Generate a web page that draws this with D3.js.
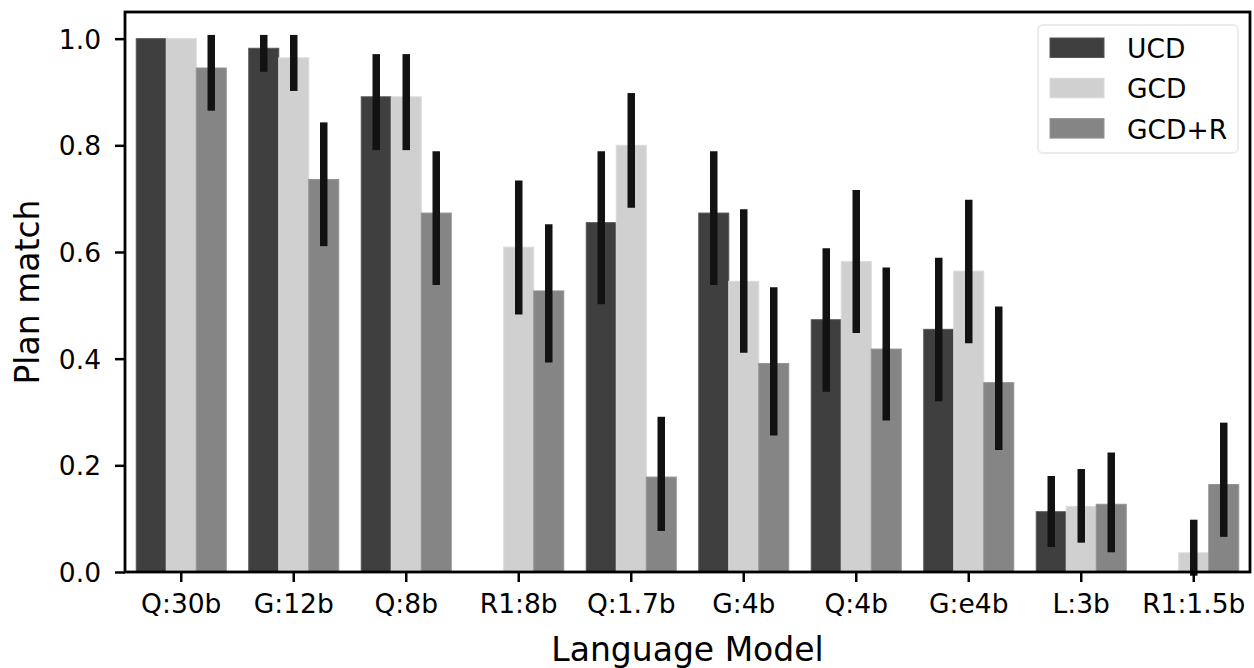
<!DOCTYPE html>
<html lang="en">
<head>
  <meta charset="utf-8">
  <title>Plan match by language model</title>
  <script src="https://cdn.jsdelivr.net/npm/d3@7"></script>
  <style>
    body { margin: 0; background: #fff; }
    svg { display: block; font-family: "DejaVu Sans", sans-serif; }
  </style>
</head>
<body>

<div id="screen">
  <svg width="1254" height="668"></svg>
</div>

<script type="text/javascript">

// categories along the x axis
const models = ["Q:30b", "G:12b", "Q:8b", "R1:8b", "Q:1.7b", "G:4b", "Q:4b", "G:e4b", "L:3b", "R1:1.5b"];
const methods = ["UCD", "GCD", "GCD+R"];

// mean plan match per model (null = no bar)
const ucd    = [1.0,   0.982, 0.891, null,  0.655, 0.673, 0.473, 0.455, 0.113, null];
const gcd    = [1.0,   0.964, 0.891, 0.609, 0.800, 0.545, 0.582, 0.564, 0.123, 0.036];
const gcdR   = [0.945, 0.736, 0.673, 0.527, 0.178, 0.391, 0.418, 0.355, 0.127, 0.164];

// confidence intervals, low and high
const ucdLo  = [1.0,   0.945, 0.798, null,  0.509, 0.545, 0.345, 0.327, 0.054, null];
const ucdHi  = [1.0,   1.0,   0.964, null,  0.782, 0.782, 0.600, 0.582, 0.173, null];
const gcdLo  = [1.0,   0.909, 0.798, 0.490, 0.690, 0.418, 0.455, 0.436, 0.062, 0.0];
const gcdHi  = [1.0,   1.0,   0.964, 0.727, 0.891, 0.673, 0.709, 0.691, 0.186, 0.091];
const gcdRLo = [0.872, 0.618, 0.545, 0.400, 0.084, 0.263, 0.291, 0.236, 0.044, 0.073];
const gcdRHi = [1.0,   0.836, 0.782, 0.645, 0.284, 0.527, 0.564, 0.491, 0.217, 0.273];

const yTicks = [0.0, 0.2, 0.4, 0.6, 0.8, 1.0];

const colours = {"UCD": "#3f3f3f", "GCD": "#d0d0d0", "GCD+R": "#858585"};
const edges   = {"UCD": "#555555", "GCD": "#dadada", "GCD+R": "#939393"};

const plot = { left: 125, right: 1250, top: 12, bottom: 572 };
const tickFont = 26.5;

var svg = d3.select('svg');

var x = d3.scaleBand().domain(models).range([plot.left, plot.right]).padding(0);
var xInner = d3.scaleBand().domain(methods)
  .range([x.bandwidth() * 0.1, x.bandwidth() * 0.9]).padding(0);
var y = d3.scaleLinear().domain([0, 1.05]).range([plot.bottom, plot.top]);

// one row per bar
var rows = [];
var seriesVals = {"UCD": [ucd, ucdLo, ucdHi], "GCD": [gcd, gcdLo, gcdHi], "GCD+R": [gcdR, gcdRLo, gcdRHi]};
models.forEach(function(m, i) {
  methods.forEach(function(s) {
    var v = seriesVals[s];
    if (v[0][i] !== null) {
      rows.push({model: m, method: s, value: v[0][i], lo: v[1][i], hi: v[2][i]});
    }
  });
});

// bars
svg.append('g').selectAll('rect')
  .data(rows)
  .enter().append('rect')
  .attr("x", function(d) { return x(d.model) + xInner(d.method); })
  .attr("width", xInner.bandwidth())
  .attr("y", function(d) { return y(d.value); })
  .attr("height", function(d) { return y(0) - y(d.value); })
  .attr("fill", function(d) { return colours[d.method]; })
  .attr("stroke", function(d) { return edges[d.method]; })
  .attr("stroke-width", 1);

// error bars
svg.append('g').selectAll('line')
  .data(rows.filter(function(d) { return d.hi > d.lo; }))
  .enter().append('line')
  .attr("x1", function(d) { return x(d.model) + xInner(d.method) + xInner.bandwidth() / 2; })
  .attr("x2", function(d) { return x(d.model) + xInner(d.method) + xInner.bandwidth() / 2; })
  .attr("y1", function(d) { return y(d.lo); })
  .attr("y2", function(d) { return y(d.hi); })
  .attr("stroke", "#121212")
  .attr("stroke-width", 7.5)
  .attr("stroke-linecap", "square");

// axes
var yAxis = d3.axisLeft(y).tickValues(yTicks).tickFormat(d3.format(".1f"))
  .tickSize(10).tickPadding(14);
var gy = svg.append('g').attr('transform', 'translate(' + plot.left + ',0)').call(yAxis);

var xAxis = d3.axisBottom(x).tickSize(10).tickPadding(12);
var gx = svg.append('g').attr('transform', 'translate(0,' + plot.bottom + ')').call(xAxis);

[gy, gx].forEach(function(g) {
  g.select('.domain').remove();
  g.selectAll('.tick line').attr('stroke', '#000').attr('stroke-width', 2.5);
  g.selectAll('.tick text').attr('font-size', tickFont).attr('fill', '#000')
    .attr('font-family', '"DejaVu Sans", sans-serif');
});
gy.selectAll('.tick text').attr('dy', '0.36em');

// frame
svg.append('rect')
  .attr('x', plot.left).attr('y', plot.top)
  .attr('width', plot.right - plot.left).attr('height', plot.bottom - plot.top)
  .attr('fill', 'none').attr('stroke', '#000').attr('stroke-width', 2.8);

// axis titles
svg.append('text')
  .attr('x', (plot.left + plot.right) / 2).attr('y', 661)
  .attr('text-anchor', 'middle').attr('font-size', 33).attr('fill', '#000')
  .text('Language Model');

svg.append('text')
  .attr('transform', 'translate(39,' + (plot.top + plot.bottom) / 2 + ') rotate(-90)')
  .attr('text-anchor', 'middle').attr('font-size', 33).attr('fill', '#000')
  .text('Plan match');

// legend
var legend = svg.append('g');
legend.append('rect')
  .attr('x', 1038).attr('y', 25).attr('width', 200).attr('height', 128)
  .attr('rx', 5).attr('ry', 5)
  .attr('fill', '#fff').attr('fill-opacity', 0.8)
  .attr('stroke', '#ebebeb').attr('stroke-width', 2);

var item = legend.selectAll('g.item')
  .data(methods)
  .enter().append('g').attr('class', 'item')
  .attr('transform', function(d, i) { return 'translate(1050,' + (38 + i * 40.3) + ')'; });

item.append('rect')
  .attr('width', 54).attr('height', 19.5)
  .attr('fill', function(d) { return colours[d]; })
  .attr('stroke', function(d) { return edges[d]; })
  .attr('stroke-width', 1);

item.append('text')
  .attr('x', 77).attr('y', 20)
  .attr('font-size', tickFont).attr('fill', '#000')
  .text(function(d) { return d; });

</script>
</body>
</html>
